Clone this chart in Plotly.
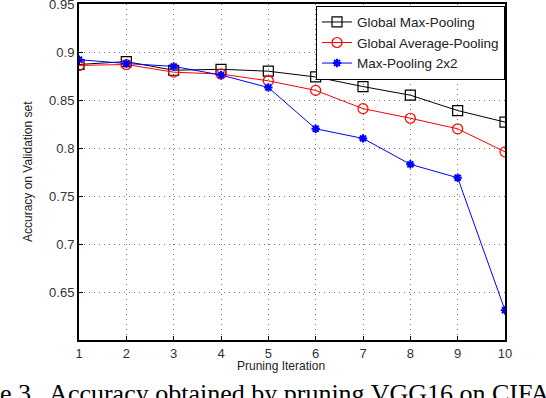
import plotly.graph_objects as go

# pruning iterations and accuracy
iterations = [1, 2, 3, 4, 5, 6, 7, 8, 9, 10]
global_max = [0.887, 0.890, 0.881, 0.882, 0.880, 0.874, 0.864, 0.855, 0.839, 0.827]
global_avg = [0.886, 0.887, 0.879, 0.877, 0.870, 0.860, 0.841, 0.831, 0.820, 0.796]
max_2x2 = [0.892, 0.888, 0.885, 0.876, 0.863, 0.820, 0.810, 0.783, 0.769, 0.631]

y_ticks = [0.65, 0.7, 0.75, 0.8, 0.85, 0.9, 0.95]
y_tick_text = ['0.65', '0.7', '0.75', '0.8', '0.85', '0.9', '0.95']

font = 'Liberation Sans, Arial, sans-serif'

fig = go.Figure()

fig.add_trace(go.Scatter(
    x=iterations, y=global_max, mode='lines+markers', name='Global Max-Pooling',
    line=dict(color='black', width=1),
    marker=dict(symbol='square-open', size=10, color='black', line=dict(width=1.2))
))
fig.add_trace(go.Scatter(
    x=iterations, y=global_avg, mode='lines+markers', name='Global Average-Pooling',
    line=dict(color='red', width=1),
    marker=dict(symbol='circle-open', size=10, color='red', line=dict(width=1.2))
))
fig.add_trace(go.Scatter(
    x=iterations, y=max_2x2, mode='lines+markers', name='Max-Pooling 2x2',
    line=dict(color='blue', width=1),
    marker=dict(symbol='asterisk-open', size=7, color='blue', line=dict(width=2, color='blue'))
))

axis_common = dict(
    showline=True, linecolor='black', linewidth=2, mirror=True,
    ticks='inside', ticklen=4, tickcolor='black',
    showgrid=True, gridcolor='#777777', griddash='1px,4px', gridwidth=1,
    zeroline=False, automargin=False, ticklabeloverflow='allow',
    tickfont=dict(family=font, size=13, color='#333333'),
)

fig.update_xaxes(range=[1, 10], tickvals=iterations, **axis_common)
fig.update_yaxes(range=[0.6, 0.95], tickvals=y_ticks, ticktext=y_tick_text, **axis_common)

fig.update_layout(
    width=546, height=398,
    margin=dict(l=79, r=41, t=4, b=58, autoexpand=False),
    plot_bgcolor='white', paper_bgcolor='white',
    font=dict(family=font, color='#222222'),
    showlegend=True,
    legend=dict(
        x=1, y=0.995, xanchor='right', yanchor='top',
        bgcolor='white', bordercolor='black', borderwidth=1,
        font=dict(family=font, size=13.5, color='#222222'),
        tracegroupgap=0, itemwidth=30,
    ),
    annotations=[
        dict(text='Accuracy on Validation set', xref='paper', yref='paper',
             x=(28 - 79) / 426, y=0.5, textangle=-90, showarrow=False,
             xanchor='center', yanchor='middle',
             font=dict(family=font, size=12, color='#222222')),
        dict(text='Pruning Iteration', xref='paper', yref='paper',
             x=(281 - 79) / 426, y=(340 - 366) / 336, showarrow=False,
             xanchor='center', yanchor='middle',
             font=dict(family=font, size=12, color='#222222')),
        dict(text='e 3.  Accuracy obtained by pruning VGG16 on CIFA', xref='paper', yref='paper',
             x=(-2 - 79) / 426, y=(340 - 377) / 336, showarrow=False,
             xanchor='left', yanchor='top',
             font=dict(family='Liberation Serif, Times New Roman, serif', size=26, color='black')),
    ],
)

# drop the default page margin so the figure sits at the window's corner
fig.write_html('out.html', config={'displayModeBar': False},
               post_script="document.body.style.margin='0';")
